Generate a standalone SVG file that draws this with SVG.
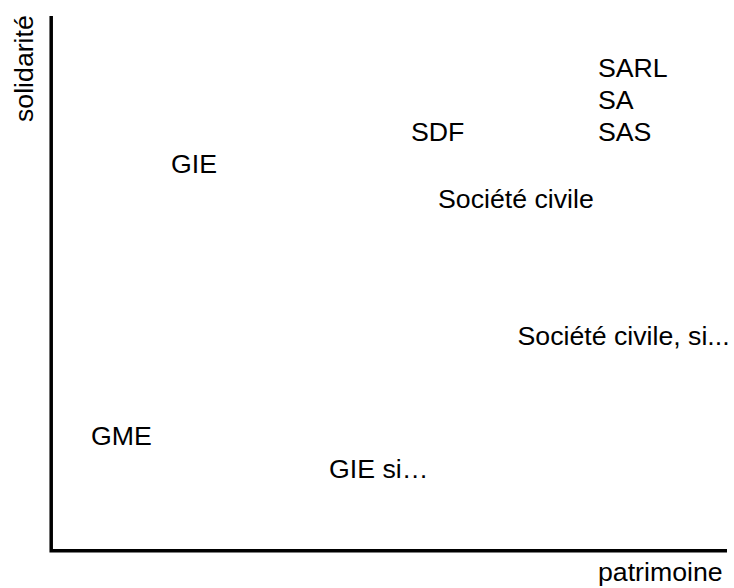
<svg xmlns="http://www.w3.org/2000/svg" width="734" height="588" viewBox="0 0 734 588">
<style>
text{font-family:"Liberation Sans",Arial,sans-serif;font-size:26.7px;fill:#000}
.axis{stroke:#000;stroke-width:3.5;fill:none}
</style>
<rect width="734" height="588" fill="#fff"/>
<g id="connectors">
<path class="axis" d="M51.2 16 V550.8 H727"/>
</g>
<g id="axis-y"><text transform="translate(32.5,122) rotate(-90)">solidarité</text></g>
<g id="axis-x"><text x="598" y="581">patrimoine</text></g>
<g id="sarl"><text x="598" y="77">SARL</text></g>
<g id="sa"><text x="598" y="109">SA</text></g>
<g id="sas"><text x="598" y="141">SAS</text></g>
<g id="sdf"><text x="411" y="141">SDF</text></g>
<g id="gie"><text x="171" y="173">GIE</text></g>
<g id="societe-civile"><text x="438" y="208">Société civile</text></g>
<g id="societe-civile-si"><text x="517.5" y="345">Société civile, si...</text></g>
<g id="gme"><text x="91" y="445">GME</text></g>
<g id="gie-si"><text x="329" y="478">GIE si…</text></g>
</svg>
